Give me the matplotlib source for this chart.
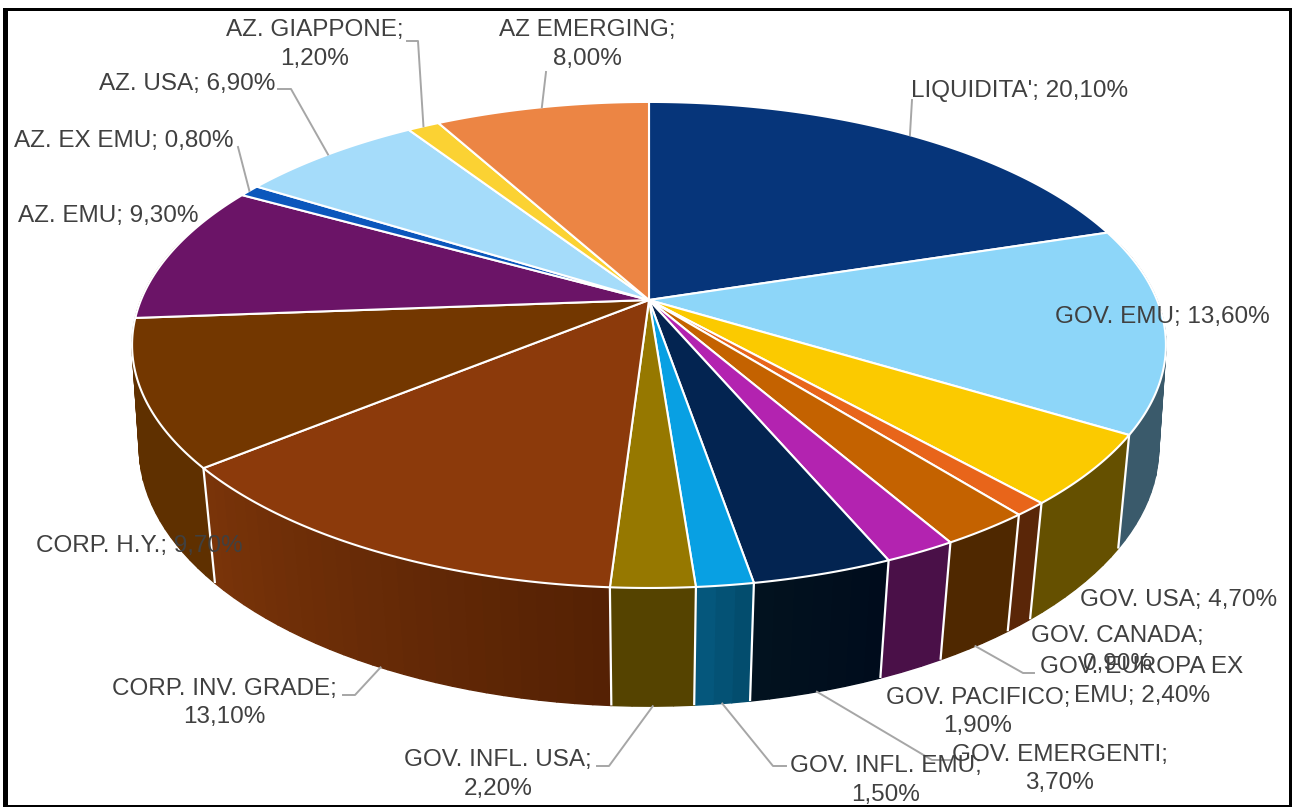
import numpy as np
import matplotlib
matplotlib.use("Agg")
import matplotlib.pyplot as plt
from matplotlib.colors import to_rgb
from matplotlib.patches import Polygon, Rectangle

plt.rcParams["font.family"] = ["Liberation Sans", "DejaVu Sans"]

# slices, clockwise from 12 o'clock
names = ["LIQUIDITA'", "GOV. EMU", "GOV. USA", "GOV. CANADA", "GOV. EUROPA EX EMU", "GOV. PACIFICO",
         "GOV. EMERGENTI", "GOV. INFL. EMU", "GOV. INFL. USA", "CORP. INV. GRADE", "CORP. H.Y.",
         "AZ. EMU", "AZ. EX EMU", "AZ. USA", "AZ. GIAPPONE", "AZ EMERGING"]
values = [20.1, 13.6, 4.7, 0.9, 2.4, 1.9, 3.7, 1.5, 2.2, 13.1, 9.7, 9.3, 0.8, 6.9, 1.2, 8.0]
two_line = ["GOV. CANADA", "GOV. PACIFICO", "GOV. EMERGENTI", "GOV. INFL. EMU", "GOV. INFL. USA",
            "CORP. INV. GRADE", "AZ. GIAPPONE", "AZ EMERGING"]

top_colors = ["#06357a", "#8dd6f9", "#fbca00", "#e8651a", "#c46200", "#b323b0", "#032451", "#08a0e3",
              "#967800", "#8c3a0b", "#733700", "#6b1467", "#0b57bc", "#a5dcfa", "#fbd233", "#ec8544"]
# side wall colours: (clockwise start, clockwise end); AZ. EMU wall only shows as the HY silhouette
side_colors = [("#03204a", "#03204a"), ("#3a5a6b", "#3a5a6b"), ("#655000", "#655000"), ("#5a2608", "#5a2608"),
               ("#4f2800", "#4f2800"), ("#4a1048", "#4a1048"), ("#000c1c", "#02121f"), ("#034a6a", "#055a80"),
               ("#554300", "#554300"), ("#542104", "#7a3409"), ("#5f3000", "#5f3000"), ("#5f3000", "#5f3000"),
               ("#073472", "#073472"), ("#64859a", "#64859a"), ("#98801f", "#98801f"), ("#8f5029", "#8f5029")]

# label layout in image pixels: text centre, and elbow of the leader (None = no leader)
label_x = [1020, 1162, 1179, 1117, 1142, 978, 1060, 886, 498, 224, 139, 108, 124, 187, 315, 587]
label_y = [91, 317, 600, 650, 681.5, 712, 769, 780.5, 774.5, 703, 546, 216, 141, 84, 44.5, 44.5]
leader_pct = [10.05, None, None, None, 40.5, None, 45.45, 48.05, 49.9, 57.55, None, None, 83.5, 87.35, 91.4, 96.0]
leader_elbow = {0: [(912, 100)], 4: [(1034, 673), (1023, 673)], 6: [(950, 760), (932, 760)],
                7: [(786, 766), (773, 766)], 8: [(597, 766), (609, 766)], 9: [(343, 695), (355, 695)],
                12: [(238, 147)], 13: [(278, 89), (291, 89)], 14: [(407, 41), (418, 41)], 15: [(546, 72)]}


def top_rim(t):
    u, v = np.sin(t), -np.cos(t)
    d = 1 - 0.185 * v
    return 649 + 508 * u / d, 300 + 234.7 * v / d


def bottom_rim(t):
    u, v = np.sin(t), -np.cos(t)
    d = 1 - 0.162 * v
    return 649 + 503 * u / d, 405.5 + 252 * v / d


def label_text(name, val):
    pct = f"{val:.2f}".replace(".", ",") + "%"
    if name == "GOV. EUROPA EX EMU":
        return f"GOV. EUROPA EX\nEMU; {pct}"
    if name in two_line:
        return f"{name};\n{pct}"
    return f"{name}; {pct}"


fig = plt.figure(figsize=(12.92, 8.07), dpi=100)
ax = fig.add_axes([0, 0, 1, 1])
ax.set_xlim(0, 1292); ax.set_ylim(807, 0); ax.axis("off")

# frame
for x, y, w, h in [(3, 8, 1289, 3), (3, 8, 5, 799), (1289, 8, 3, 799), (3, 805, 1289, 2)]:
    ax.add_patch(Rectangle((x, y), w, h, fc="black", ec="none", zorder=1))

edges = np.cumsum([0] + values) / sum(values) * 2 * np.pi

# side wall, segment by segment so each one covers the seam of the one before
for i in range(len(values)):
    n = max(int((edges[i + 1] - edges[i]) / 0.03), 2)
    ts = np.linspace(edges[i], edges[i + 1], n + 1)
    c0, c1 = np.array(to_rgb(side_colors[i][0])), np.array(to_rgb(side_colors[i][1]))
    for j in range(n):
        a, b = ts[j], ts[j + 1]
        if -np.cos((a + b) / 2) < -0.25:
            continue
        col = c0 + (c1 - c0) * (j + 0.5) / n
        p = [top_rim(a), top_rim(b), bottom_rim(b), bottom_rim(a)]
        ax.add_patch(Polygon(p, closed=True, fc=col, ec=col, lw=1.0, zorder=2))

# white seams between the wall segments
for e in edges:
    if -np.cos(e) > 0.2:
        xt, yt = top_rim(e); xb, yb = bottom_rim(e)
        ax.plot([xt, xb], [yt, yb], color="white", lw=1.6, zorder=3, solid_capstyle="butt")

# top face
for i in range(len(values)):
    ts = np.linspace(edges[i], edges[i + 1], 120)
    xs, ys = top_rim(ts)
    p = np.column_stack([np.r_[649, xs], np.r_[300, ys]])
    ax.add_patch(Polygon(p, closed=True, fc=top_colors[i], ec="white", lw=1.5, joinstyle="round", zorder=4))

# leaders
for i, elbow in leader_elbow.items():
    t = leader_pct[i] / 100 * 2 * np.pi
    front = -np.cos(t) > 0.3
    end = bottom_rim(t) if front else top_rim(t)
    pts = elbow + [end]
    ax.plot([q[0] for q in pts], [q[1] for q in pts], color="#a6a6a6", lw=1.4, zorder=5)

# labels
for i, name in enumerate(names):
    ax.text(label_x[i], label_y[i], label_text(name, values[i]), ha="center", va="center", multialignment="center",
            fontsize=17.5, color="#404040", linespacing=1.36, zorder=6)

fig.savefig("out.png", dpi=100)
